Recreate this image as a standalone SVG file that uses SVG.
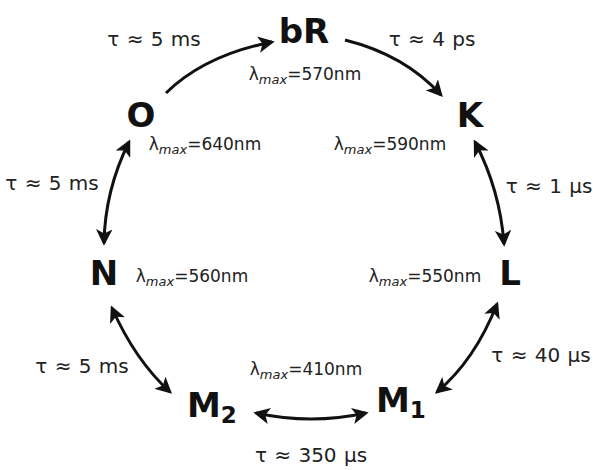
<svg xmlns="http://www.w3.org/2000/svg" width="593" height="470" viewBox="0 0 593 470">
<style>
.node{font-family:"DejaVu Sans",Verdana,sans-serif;font-weight:bold;font-size:34px;fill:#111;}
.sub{font-size:23px;}
.lbl{font-family:"DejaVu Sans",Verdana,sans-serif;font-size:20px;fill:#222;word-spacing:1px;}
.lam{font-family:"DejaVu Sans",Verdana,sans-serif;font-size:17px;fill:#222;}
.it{font-style:italic;font-size:13px;}
.c{fill:none;stroke:#111;stroke-width:3;}
</style>
<defs>
<marker id="ah" viewBox="0 0 12 12" refX="10" refY="6" markerWidth="5.5" markerHeight="5.5" orient="auto-start-reverse" markerUnits="strokeWidth">
<path d="M0,0 L12,6 L0,12 L3,6 z" fill="#111"/>
</marker>
</defs>
<rect width="593" height="470" fill="#fff"/>
<g id="connectors">
<path class="c" d="M166,93 Q205,55 272,42" marker-end="url(#ah)"/>
<path class="c" d="M345,40 Q405,55 441,95" marker-end="url(#ah)"/>
<path class="c" d="M475,142 Q500,190 504,244" marker-start="url(#ah)" marker-end="url(#ah)"/>
<path class="c" d="M129,142 Q105,190 104,243" marker-start="url(#ah)" marker-end="url(#ah)"/>
<path class="c" d="M112,308 Q135,360 170,392" marker-start="url(#ah)" marker-end="url(#ah)"/>
<path class="c" d="M497,304 Q475,360 437,392" marker-start="url(#ah)" marker-end="url(#ah)"/>
<path class="c" d="M256,413 Q311,425 366,413" marker-start="url(#ah)" marker-end="url(#ah)"/>
</g>
<g id="bR"><text class="node" x="304" y="43" text-anchor="middle">bR</text><text class="lam" x="305" y="80" text-anchor="middle">λ<tspan class="it" dy="4">max</tspan><tspan dy="-4">=570nm</tspan></text></g>
<g id="K"><text class="node" x="470" y="127" text-anchor="middle">K</text><text class="lam" x="390" y="150" text-anchor="middle">λ<tspan class="it" dy="4">max</tspan><tspan dy="-4">=590nm</tspan></text></g>
<g id="O"><text class="node" x="141" y="127" text-anchor="middle">O</text><text class="lam" x="205" y="150" text-anchor="middle">λ<tspan class="it" dy="4">max</tspan><tspan dy="-4">=640nm</tspan></text></g>
<g id="N"><text class="node" x="104" y="285" text-anchor="middle">N</text><text class="lam" x="192" y="282" text-anchor="middle">λ<tspan class="it" dy="4">max</tspan><tspan dy="-4">=560nm</tspan></text></g>
<g id="L"><text class="node" x="510" y="285" text-anchor="middle">L</text><text class="lam" x="425" y="282" text-anchor="middle">λ<tspan class="it" dy="4">max</tspan><tspan dy="-4">=550nm</tspan></text></g>
<g id="M2"><text class="node" x="187" y="417">M<tspan class="sub" dy="6">2</tspan></text></g>
<g id="M1"><text class="node" x="376" y="412">M<tspan class="sub" dy="6">1</tspan></text><text class="lam" x="306" y="375" text-anchor="middle">λ<tspan class="it" dy="4">max</tspan><tspan dy="-4">=410nm</tspan></text></g>
<g id="labels">
<text class="lbl" x="154" y="46" text-anchor="middle">τ ≈ 5 ms</text>
<text class="lbl" x="432" y="46" text-anchor="middle">τ ≈ 4 ps</text>
<text class="lbl" x="52" y="190" text-anchor="middle">τ ≈ 5 ms</text>
<text class="lbl" x="549" y="193" text-anchor="middle">τ ≈ 1 μs</text>
<text class="lbl" x="82" y="373" text-anchor="middle">τ ≈ 5 ms</text>
<text class="lbl" x="541" y="362" text-anchor="middle">τ ≈ 40 μs</text>
<text class="lbl" x="311" y="462" text-anchor="middle">τ ≈ 350 μs</text>
</g>
</svg>
